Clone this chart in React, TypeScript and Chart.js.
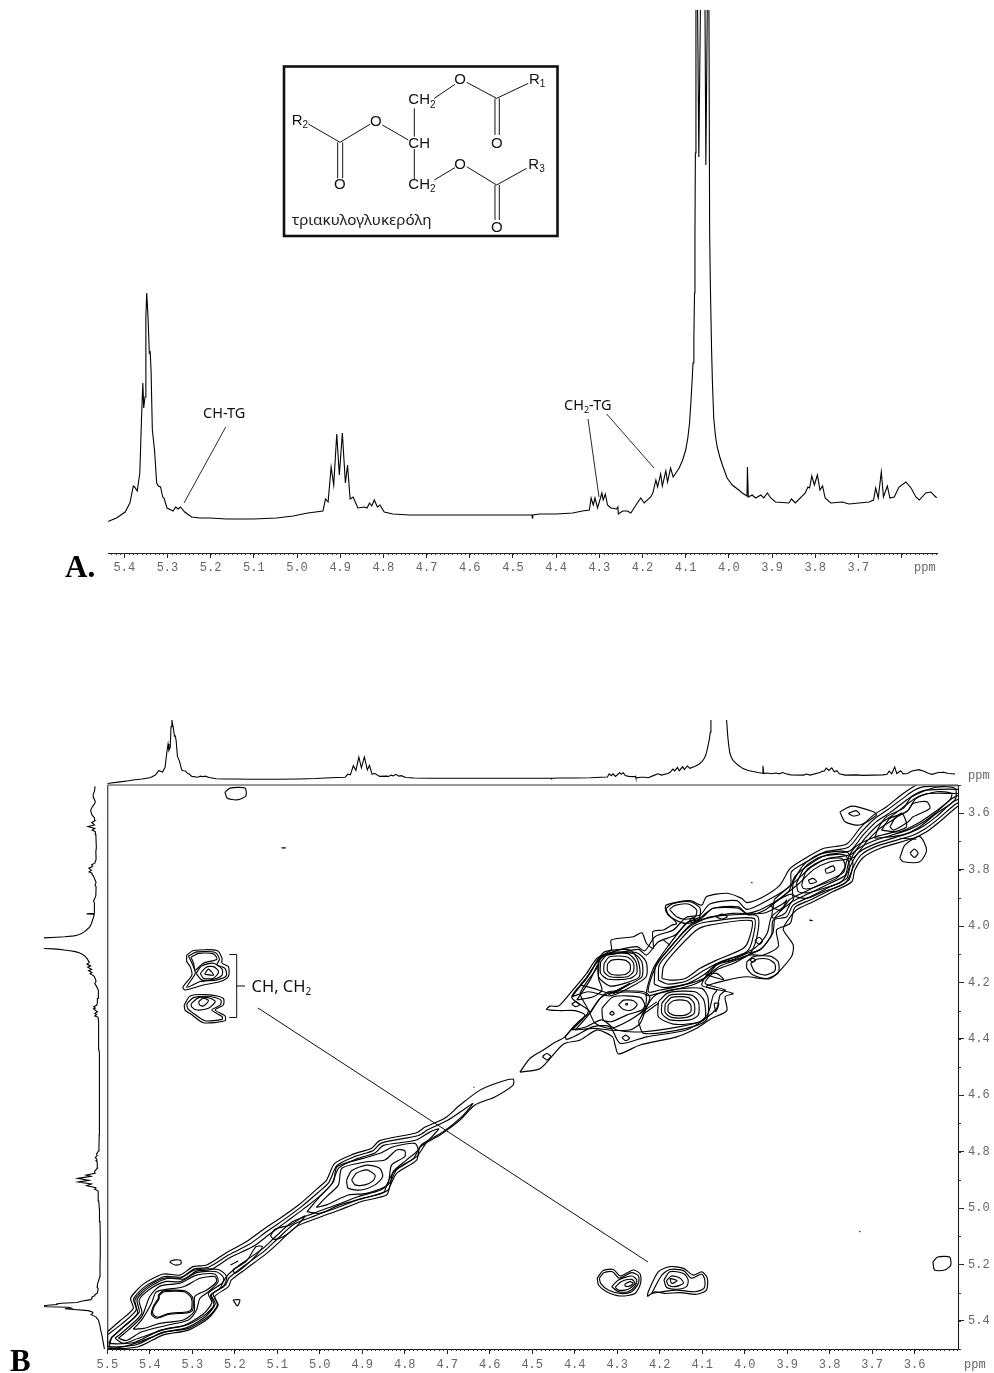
import React, { useEffect, useRef } from "react";
import { Chart, registerables } from "chart.js";

Chart.register(...registerables);

type Contour = number[][];

/* ---------- 1D spectrum, [ppm, intensity] ---------- */
const spectrum: number[][] = [
  [5.5, 18], [5.47, 24], [5.45, 28],
  [5.435, 32], [5.418, 35], [5.398, 41], [5.387, 50], [5.379, 67], [5.376, 66], [5.37, 62], [5.364, 80], [5.36, 136],
  [5.357, 170], [5.355, 145], [5.352, 156], [5.35, 236], [5.348, 260], [5.345, 236], [5.342, 200], [5.34, 201],
  [5.338, 183], [5.335, 123], [5.33, 103], [5.325, 70], [5.321, 67], [5.316, 66], [5.311, 56], [5.308, 55],
  [5.301, 45], [5.287, 42], [5.281, 46], [5.275, 44], [5.27, 46], [5.26, 41], [5.244, 36], [5.225, 35], [5.202, 35],
  [5.163, 34], [5.102, 34], [5.048, 35], [5.009, 37], [4.975, 40], [4.94, 42], [4.934, 54], [4.928, 51], [4.921, 86],
  [4.915, 68], [4.908, 119], [4.902, 78], [4.895, 120], [4.888, 70], [4.883, 88], [4.877, 54], [4.87, 56], [4.859, 45],
  [4.844, 46], [4.838, 45], [4.832, 50], [4.827, 47], [4.821, 53], [4.814, 46], [4.808, 48], [4.798, 41], [4.778, 39],
  [4.74, 38], [4.624, 38], [4.456, 38], [4.455, 35], [4.454, 38], [4.439, 39], [4.4, 39], [4.362, 40], [4.339, 42],
  [4.323, 43], [4.319, 55], [4.314, 48], [4.31, 55], [4.304, 45], [4.294, 60], [4.291, 53], [4.286, 59], [4.281, 48],
  [4.273, 45], [4.26, 44], [4.257, 46], [4.256, 39], [4.246, 42], [4.235, 42], [4.227, 40], [4.215, 48], [4.204, 55],
  [4.196, 50], [4.181, 56], [4.176, 60], [4.169, 73], [4.165, 66], [4.158, 79], [4.154, 67], [4.146, 82], [4.142, 71],
  [4.135, 85], [4.129, 76], [4.115, 85], [4.107, 93], [4.1, 103], [4.095, 115], [4.091, 130], [4.088, 150], [4.085, 173],
  [4.083, 190], [4.081, 215], [4.0795, 260], [4.0785, 320], [4.0775, 400],
  [4.0762, 600], [4.0735, 600], [4.0695, 396], [4.0645, 600], [4.056, 600], [4.0532, 388], [4.0488, 600], [4.0465, 600],
  [4.0445, 320], [4.0425, 260], [4.04, 203], [4.038, 170], [4.035, 135], [4.031, 117], [4.027, 106], [4.021, 96], [4.015, 88],
  [4.004, 75], [3.992, 68], [3.977, 63], [3.969, 60],
  [3.958, 57], [3.957, 86], [3.955, 56], [3.946, 58], [3.938, 55], [3.926, 58], [3.919, 55], [3.911, 60], [3.903, 55],
  [3.892, 51], [3.861, 50], [3.855, 54], [3.846, 50], [3.823, 60], [3.817, 66], [3.813, 65], [3.808, 77], [3.802, 68],
  [3.795, 78], [3.789, 63], [3.783, 67], [3.777, 55], [3.764, 50], [3.737, 51], [3.722, 49], [3.675, 51], [3.665, 53],
  [3.66, 65], [3.654, 55], [3.647, 81], [3.642, 56], [3.633, 67], [3.627, 55], [3.617, 56], [3.606, 66], [3.59, 71],
  [3.578, 65], [3.567, 56], [3.559, 53], [3.544, 60], [3.532, 61], [3.521, 56], [3.505, 54],
];

const ticksSpectrum = [5.4, 5.3, 5.2, 5.1, 5.0, 4.9, 4.8, 4.7, 4.6, 4.5, 4.4, 4.3, 4.2, 4.1, 4.0, 3.9, 3.8, 3.7, 3.6];
const unlabeledSpectrumTicks = [3.6];
const ticksF2 = [5.5, 5.4, 5.3, 5.2, 5.1, 5.0, 4.9, 4.8, 4.7, 4.6, 4.5, 4.4, 4.3, 4.2, 4.1, 4.0, 3.9, 3.8, 3.7, 3.6];
const ticksF1 = [3.6, 3.8, 4.0, 4.2, 4.4, 4.6, 4.8, 5.0, 5.2, 5.4];

/* ---------- 2D contours, [ppm F2, ppm F1] ---------- */
const diagonalLong: Contour[] = [
  [[5.5, 5.439], [5.47, 5.4], [5.439, 5.356], [5.445, 5.32], [5.415, 5.27], [5.368, 5.234], [5.329, 5.238], [5.298, 5.208], [5.266, 5.202], [5.219, 5.158], [5.172, 5.119], [5.133, 5.076], [5.09, 5.033], [5.047, 4.986], [5.008, 4.934], [4.984, 4.901], [4.965, 4.842], [4.921, 4.809], [4.878, 4.788], [4.859, 4.761], [4.772, 4.733], [4.752, 4.713], [4.705, 4.681], [4.67, 4.635], [4.623, 4.582], [4.576, 4.553], [4.545, 4.543], [4.545, 4.564], [4.588, 4.606], [4.635, 4.635], [4.67, 4.688], [4.717, 4.741], [4.764, 4.784], [4.772, 4.83], [4.819, 4.877], [4.835, 4.924], [4.843, 4.954], [4.902, 4.977], [4.953, 5.007], [5.008, 5.037], [5.055, 5.066], [5.094, 5.119], [5.125, 5.161], [5.172, 5.214], [5.208, 5.255], [5.215, 5.279], [5.247, 5.314], [5.239, 5.344], [5.262, 5.391], [5.309, 5.433], [5.368, 5.45], [5.427, 5.492], [5.498, 5.498]],
  [[5.5, 5.45], [5.465, 5.41], [5.432, 5.362], [5.438, 5.322], [5.41, 5.277], [5.365, 5.243], [5.325, 5.245], [5.295, 5.216], [5.262, 5.21], [5.215, 5.167], [5.165, 5.128], [5.128, 5.087], [5.085, 5.042], [5.043, 4.995], [5.004, 4.945], [4.978, 4.908], [4.96, 4.85], [4.917, 4.817], [4.875, 4.797], [4.855, 4.77], [4.768, 4.743], [4.745, 4.722], [4.7, 4.69], [4.66, 4.65], [4.64, 4.63], [4.665, 4.675], [4.71, 4.73], [4.76, 4.775], [4.78, 4.825], [4.825, 4.87], [4.842, 4.917], [4.85, 4.945], [4.905, 4.968], [4.958, 4.998], [5.012, 5.028], [5.06, 5.057], [5.1, 5.11], [5.13, 5.152], [5.178, 5.205], [5.213, 5.247], [5.222, 5.273], [5.255, 5.308], [5.246, 5.34], [5.268, 5.384], [5.314, 5.425], [5.372, 5.442], [5.43, 5.484], [5.5, 5.49]],
  [[5.49, 5.46], [5.46, 5.42], [5.425, 5.37], [5.43, 5.325], [5.405, 5.285], [5.36, 5.25], [5.32, 5.252], [5.29, 5.224], [5.255, 5.218], [5.21, 5.175], [5.155, 5.135], [5.12, 5.095], [5.08, 5.05], [5.038, 5.003], [4.998, 4.955], [4.972, 4.915], [4.955, 4.858], [4.912, 4.825], [4.87, 4.805], [4.85, 4.778], [4.775, 4.76], [4.74, 4.73], [4.72, 4.72], [4.75, 4.77], [4.772, 4.818], [4.818, 4.862], [4.835, 4.91], [4.855, 4.935], [4.91, 4.96], [4.963, 4.99], [5.017, 5.02], [5.065, 5.05], [5.105, 5.103], [5.135, 5.145], [5.184, 5.197], [5.218, 5.24], [5.23, 5.267], [5.262, 5.302], [5.254, 5.336], [5.275, 5.377], [5.32, 5.417], [5.376, 5.434], [5.435, 5.476], [5.495, 5.48]],
];

const peak535: Contour[] = [
  [[5.49, 5.459], [5.462, 5.421], [5.429, 5.374], [5.435, 5.326], [5.411, 5.285], [5.368, 5.249], [5.329, 5.249], [5.294, 5.22], [5.239, 5.218], [5.219, 5.243], [5.227, 5.279], [5.251, 5.303], [5.241, 5.344], [5.262, 5.385], [5.309, 5.427], [5.36, 5.439], [5.423, 5.474], [5.462, 5.492], [5.494, 5.494]],
  [[5.482, 5.462], [5.455, 5.429], [5.419, 5.374], [5.425, 5.326], [5.4, 5.288], [5.364, 5.261], [5.329, 5.261], [5.29, 5.229], [5.243, 5.226], [5.226, 5.249], [5.235, 5.285], [5.257, 5.309], [5.249, 5.344], [5.27, 5.379], [5.313, 5.415], [5.357, 5.427], [5.427, 5.462], [5.462, 5.48]],
  [[5.474, 5.462], [5.451, 5.433], [5.419, 5.385], [5.4, 5.314], [5.376, 5.277], [5.329, 5.267], [5.29, 5.238], [5.247, 5.234], [5.239, 5.261], [5.262, 5.297], [5.282, 5.32], [5.29, 5.362], [5.309, 5.397], [5.357, 5.415], [5.419, 5.439], [5.455, 5.47]],
  [[5.439, 5.43], [5.419, 5.397], [5.396, 5.338], [5.384, 5.297], [5.321, 5.279], [5.282, 5.249], [5.247, 5.243], [5.243, 5.261], [5.266, 5.291], [5.294, 5.314], [5.296, 5.368], [5.321, 5.397], [5.376, 5.409], [5.415, 5.427]],
  [[5.38, 5.308], [5.368, 5.294], [5.317, 5.294], [5.299, 5.318], [5.299, 5.362], [5.309, 5.371], [5.356, 5.377], [5.384, 5.391], [5.396, 5.377], [5.392, 5.35], [5.38, 5.32]],
  [[5.378, 5.31], [5.366, 5.297], [5.319, 5.297], [5.302, 5.32], [5.302, 5.359], [5.311, 5.368], [5.356, 5.374], [5.382, 5.387], [5.393, 5.375], [5.39, 5.35], [5.378, 5.322]],
];

const ridgeSmall: Contour[] = [
  [[5.353, 5.19], [5.341, 5.184], [5.327, 5.186], [5.327, 5.198], [5.341, 5.202], [5.351, 5.194]],
  [[5.204, 5.326], [5.188, 5.326], [5.194, 5.347]],
  [[5.21, 5.202], [5.192, 5.188]],
  [[5.204, 5.218], [5.172, 5.187], [5.15, 5.137], [5.135, 5.137], [5.149, 5.167], [5.176, 5.206], [5.2, 5.232]],
  [[5.116, 5.099], [5.106, 5.076], [5.07, 5.06], [5.035, 5.028], [5.055, 5.066], [5.086, 5.102], [5.108, 5.111]],
];

const peak490: Contour[] = [
  [[4.925, 4.901], [4.914, 4.877], [4.89, 4.865], [4.87, 4.883], [4.874, 4.903], [4.894, 4.918], [4.917, 4.918]],
  [[4.937, 4.901], [4.925, 4.868], [4.89, 4.848], [4.859, 4.859], [4.852, 4.889], [4.87, 4.918], [4.902, 4.936], [4.933, 4.93]],
  [[5.008, 4.998], [4.984, 4.96], [4.956, 4.918], [4.948, 4.859], [4.89, 4.836], [4.847, 4.83], [4.819, 4.794], [4.8, 4.797], [4.8, 4.818], [4.831, 4.848], [4.841, 4.918], [4.89, 4.948], [4.933, 4.954], [4.984, 4.989]],
  [[5.03, 5.013], [5.0, 4.96], [4.968, 4.907], [4.959, 4.853], [4.898, 4.824], [4.855, 4.804], [4.827, 4.783], [4.776, 4.771], [4.769, 4.794], [4.796, 4.83], [4.827, 4.871], [4.839, 4.936], [4.898, 4.966], [4.953, 4.989], [5.0, 5.019]],
];

const clusterOuter: Contour[] = [
  [[4.529, 4.518], [4.505, 4.469], [4.474, 4.44], [4.45, 4.416], [4.423, 4.393], [4.403, 4.357], [4.376, 4.316], [4.399, 4.3], [4.434, 4.3], [4.466, 4.296], [4.458, 4.284], [4.438, 4.284], [4.411, 4.239], [4.372, 4.168], [4.348, 4.115], [4.314, 4.085], [4.314, 4.05], [4.262, 4.038], [4.242, 4.024], [4.231, 4.062], [4.215, 4.079], [4.216, 4.02], [4.191, 4.014], [4.172, 3.997], [4.16, 3.991], [4.185, 3.949], [4.185, 3.926], [4.129, 3.91], [4.101, 3.926], [4.09, 3.896], [4.042, 3.884], [4.007, 3.902], [3.995, 3.917], [3.956, 3.896], [3.917, 3.855], [3.893, 3.796], [3.854, 3.757], [3.815, 3.725], [3.76, 3.709], [3.729, 3.654], [3.697, 3.607], [3.666, 3.577], [3.627, 3.53], [3.603, 3.506], [3.58, 3.49], [3.478, 3.49], [3.478, 3.559], [3.5, 3.577], [3.541, 3.63], [3.572, 3.666], [3.603, 3.689], [3.682, 3.725], [3.721, 3.757], [3.741, 3.802], [3.748, 3.843], [3.792, 3.878], [3.839, 3.914], [3.878, 3.943], [3.901, 3.985], [3.909, 4.014], [3.886, 4.067], [3.89, 4.109], [3.94, 4.186], [3.995, 4.18], [4.042, 4.192], [4.09, 4.215], [4.027, 4.239], [4.046, 4.251], [4.042, 4.3], [4.078, 4.328], [4.113, 4.363], [4.16, 4.393], [4.246, 4.422], [4.297, 4.454], [4.305, 4.422], [4.311, 4.393], [4.348, 4.369], [4.387, 4.404], [4.427, 4.419], [4.481, 4.505]],
  [[4.423, 4.393], [4.391, 4.339], [4.364, 4.304], [4.407, 4.253], [4.372, 4.186], [4.344, 4.121], [4.309, 4.091], [4.254, 4.073], [4.235, 4.088], [4.211, 4.038], [4.168, 4.014], [4.137, 3.969], [4.105, 3.961], [4.082, 3.922], [4.019, 3.91], [3.995, 3.941], [3.956, 3.917], [3.893, 3.858], [3.89, 3.808], [3.85, 3.769], [3.811, 3.737], [3.756, 3.721], [3.725, 3.666], [3.693, 3.618], [3.662, 3.586], [3.623, 3.542], [3.6, 3.518], [3.576, 3.506], [3.478, 3.506], [3.478, 3.547], [3.505, 3.569], [3.545, 3.621], [3.576, 3.656], [3.607, 3.68], [3.686, 3.715], [3.726, 3.748], [3.746, 3.796], [3.755, 3.837], [3.795, 3.87], [3.843, 3.906], [3.882, 3.934], [3.893, 3.991], [3.925, 4.014], [3.921, 4.073], [3.956, 4.103], [3.988, 4.103], [4.027, 4.133], [4.066, 4.156], [4.093, 4.203], [4.046, 4.227], [4.058, 4.245], [4.066, 4.292], [4.097, 4.333], [4.137, 4.369], [4.231, 4.393], [4.293, 4.416], [4.317, 4.357], [4.356, 4.357], [4.395, 4.387], [4.419, 4.402]],
  [[4.407, 4.369], [4.368, 4.304], [4.387, 4.239], [4.348, 4.15], [4.336, 4.109], [4.305, 4.099], [4.25, 4.083], [4.231, 4.103], [4.203, 4.056], [4.164, 4.032], [4.133, 3.985], [4.105, 3.976], [4.074, 3.937], [4.015, 3.932], [3.995, 3.955], [3.956, 3.937], [3.897, 3.878], [3.882, 3.825], [3.846, 3.78], [3.807, 3.748], [3.752, 3.733], [3.721, 3.677], [3.69, 3.63], [3.658, 3.598], [3.619, 3.553], [3.596, 3.53], [3.572, 3.518], [3.478, 3.518], [3.478, 3.536], [3.509, 3.559], [3.549, 3.612], [3.58, 3.646], [3.611, 3.669], [3.69, 3.707], [3.732, 3.74], [3.752, 3.79], [3.76, 3.831], [3.799, 3.861], [3.846, 3.896], [3.886, 3.926], [3.901, 3.967], [3.933, 3.979], [3.937, 4.032], [3.964, 4.085], [3.995, 4.097], [4.031, 4.121], [4.07, 4.138], [4.101, 4.209], [4.066, 4.227], [4.074, 4.245], [4.086, 4.31], [4.105, 4.339], [4.152, 4.357], [4.238, 4.375], [4.301, 4.369], [4.336, 4.333], [4.372, 4.357]],
];

const ridgeUpper: Contour[] = [
  [[3.93, 3.905], [3.878, 3.838], [3.842, 3.79], [3.803, 3.76], [3.748, 3.745], [3.717, 3.689], [3.686, 3.642], [3.654, 3.61], [3.615, 3.565], [3.592, 3.542], [3.568, 3.53], [3.478, 3.53], [3.478, 3.525], [3.513, 3.549], [3.553, 3.602], [3.584, 3.636], [3.615, 3.659], [3.694, 3.697], [3.736, 3.73], [3.756, 3.78], [3.764, 3.821], [3.803, 3.851], [3.85, 3.886], [3.89, 3.916], [3.905, 3.955], [3.935, 3.97]],
  [[3.94, 3.93], [3.873, 3.85], [3.838, 3.8], [3.799, 3.772], [3.744, 3.757], [3.713, 3.701], [3.682, 3.654], [3.65, 3.622], [3.63, 3.6], [3.62, 3.65], [3.698, 3.687], [3.74, 3.72], [3.76, 3.77], [3.768, 3.811], [3.807, 3.841], [3.854, 3.876], [3.894, 3.906], [3.915, 3.945]],
];

const lens: Contour[] = [
  [[4.101, 3.967], [4.074, 3.937], [4.015, 3.937], [3.991, 3.961], [3.952, 3.943], [3.921, 3.908], [3.89, 3.887], [3.886, 3.908], [3.913, 3.943], [3.929, 3.973], [3.934, 4.026], [3.96, 4.079], [3.991, 4.103], [4.027, 4.121], [4.066, 4.138], [4.089, 4.18], [4.113, 4.203], [4.144, 4.218], [4.203, 4.239], [4.231, 4.245], [4.215, 4.15], [4.187, 4.085], [4.137, 3.991]],
  [[4.086, 3.969], [4.027, 3.955], [3.956, 3.955], [3.909, 3.92], [3.901, 3.908], [3.909, 3.932], [3.937, 3.967], [3.947, 4.026], [3.972, 4.073], [4.003, 4.099], [4.062, 4.133], [4.097, 4.174], [4.137, 4.206], [4.199, 4.227], [4.227, 4.233], [4.211, 4.15], [4.184, 4.091], [4.129, 4.002]],
  [[4.213, 4.206], [4.209, 4.138], [4.18, 4.085], [4.129, 3.997], [4.09, 3.973], [4.035, 3.961], [3.97, 3.965], [3.973, 4.05], [3.991, 4.103], [4.058, 4.142], [4.097, 4.186], [4.137, 4.206], [4.191, 4.218]],
  [[4.203, 4.192], [4.201, 4.138], [4.172, 4.085], [4.121, 4.002], [4.086, 3.985], [3.978, 3.973], [3.981, 4.044], [3.995, 4.091], [4.062, 4.13], [4.101, 4.162], [4.137, 4.195], [4.18, 4.206]],
  [[4.195, 4.186], [4.191, 4.144], [4.168, 4.097], [4.113, 4.014], [4.082, 3.997], [3.984, 3.981], [3.988, 4.038], [4.003, 4.079], [4.066, 4.121], [4.105, 4.15], [4.14, 4.186], [4.176, 4.192]],
  [[4.191, 4.05], [4.176, 4.068]],
  [[4.092, 4.172], [4.066, 4.168], [4.05, 4.19]],
];

const squareLower: Contour[] = [
  [[4.395, 4.262], [4.364, 4.192], [4.344, 4.133], [4.344, 4.186], [4.336, 4.227], [4.356, 4.251]],
  [[4.407, 4.251], [4.376, 4.192], [4.344, 4.121], [4.317, 4.095], [4.254, 4.095], [4.232, 4.127], [4.232, 4.18], [4.27, 4.218], [4.317, 4.248], [4.368, 4.233]],
  [[4.387, 4.209], [4.364, 4.168], [4.344, 4.115], [4.325, 4.099], [4.262, 4.097], [4.242, 4.127], [4.242, 4.18], [4.274, 4.209], [4.317, 4.237], [4.356, 4.221]],
  [[4.344, 4.115], [4.329, 4.091], [4.27, 4.085], [4.25, 4.127], [4.248, 4.18], [4.278, 4.201], [4.317, 4.213], [4.344, 4.18]],
  [[4.339, 4.127], [4.321, 4.099], [4.274, 4.099], [4.256, 4.127], [4.254, 4.168], [4.271, 4.186], [4.321, 4.189], [4.339, 4.168]],
  [[4.331, 4.133], [4.318, 4.109], [4.278, 4.109], [4.262, 4.13], [4.262, 4.162], [4.276, 4.18], [4.317, 4.18], [4.331, 4.162]],
  [[4.323, 4.135], [4.313, 4.121], [4.282, 4.121], [4.27, 4.135], [4.27, 4.159], [4.282, 4.172], [4.313, 4.172], [4.323, 4.159]],
  [[4.321, 4.245], [4.27, 4.203]],
  [[4.31, 4.241], [4.274, 4.209]],
];

const squareUpper: Contour[] = [
  [[4.18, 4.28], [4.168, 4.265], [4.137, 4.265], [4.127, 4.28], [4.127, 4.304], [4.14, 4.316], [4.168, 4.316], [4.18, 4.304]],
  [[4.187, 4.277], [4.172, 4.253], [4.133, 4.253], [4.119, 4.274], [4.119, 4.31], [4.137, 4.324], [4.172, 4.324], [4.187, 4.307]],
  [[4.195, 4.274], [4.176, 4.245], [4.125, 4.245], [4.109, 4.268], [4.109, 4.316], [4.129, 4.333], [4.176, 4.333], [4.195, 4.31]],
  [[4.203, 4.268], [4.18, 4.237], [4.117, 4.233], [4.096, 4.263], [4.093, 4.328], [4.113, 4.343], [4.168, 4.348], [4.203, 4.322]],
  [[4.25, 4.339], [4.215, 4.251], [4.176, 4.227], [4.101, 4.221], [4.086, 4.257], [4.09, 4.333], [4.137, 4.363], [4.238, 4.381]],
  [[4.246, 4.31], [4.207, 4.269]],
  [[4.242, 4.316], [4.203, 4.274]],
];

const crossPeak: Contour[] = [
  [[4.297, 4.28], [4.285, 4.263], [4.262, 4.265], [4.253, 4.28], [4.266, 4.298], [4.285, 4.296]],
  [[4.28, 4.275], [4.276, 4.275], [4.276, 4.279], [4.28, 4.279]],
  [[4.336, 4.292], [4.309, 4.251], [4.246, 4.253], [4.235, 4.28], [4.242, 4.298], [4.278, 4.316], [4.313, 4.339], [4.333, 4.333]],
  [[4.364, 4.31], [4.34, 4.257], [4.317, 4.237], [4.235, 4.241], [4.235, 4.292], [4.27, 4.333], [4.317, 4.363], [4.352, 4.345]],
  [[4.399, 4.369], [4.368, 4.316], [4.344, 4.263], [4.321, 4.233], [4.238, 4.233], [4.223, 4.251], [4.235, 4.304], [4.246, 4.345], [4.27, 4.369], [4.317, 4.369], [4.356, 4.363]],
  [[4.318, 4.31], [4.312, 4.303], [4.307, 4.31], [4.312, 4.316]],
];

const clusterSmall: Contour[] = [
  [[4.407, 4.277], [4.398, 4.268], [4.389, 4.28], [4.398, 4.286]],
  [[4.289, 4.396], [4.28, 4.387], [4.271, 4.398], [4.28, 4.407]],
  [[4.476, 4.463], [4.466, 4.452], [4.456, 4.463], [4.466, 4.475]],
  [[4.072, 4.274], [4.061, 4.274], [4.068, 4.304]],
  [[3.976, 4.052], [3.966, 4.04], [3.958, 4.053], [3.966, 4.065]],
  [[4.068, 3.967], [4.054, 3.958], [4.041, 3.967], [4.054, 3.975]],
  [[3.988, 4.121], [3.981, 4.114], [3.974, 4.121], [3.981, 4.128]],
  [[4.13, 3.981], [4.123, 3.971], [4.115, 3.981], [4.123, 3.988]],
  [[4.185, 3.937], [4.168, 3.92], [4.129, 3.914], [4.105, 3.937], [4.109, 3.979], [4.137, 3.991], [4.16, 3.981], [4.18, 3.961]],
  [[4.177, 3.941], [4.164, 3.927], [4.133, 3.922], [4.113, 3.943], [4.117, 3.969], [4.14, 3.976], [4.16, 3.967]],
  [[3.995, 4.127], [3.98, 4.109], [3.94, 4.107], [3.921, 4.127], [3.921, 4.166], [3.948, 4.186], [3.98, 4.174], [3.995, 4.15]],
  [[3.986, 4.133], [3.972, 4.118], [3.944, 4.118], [3.929, 4.135], [3.929, 4.159], [3.952, 4.174], [3.976, 4.162]],
];

const peak380: Contour[] = [
  [[3.886, 3.843], [3.862, 3.784], [3.823, 3.745], [3.76, 3.737], [3.745, 3.784], [3.764, 3.849], [3.815, 3.878], [3.854, 3.902], [3.886, 3.89]],
  [[3.878, 3.849], [3.858, 3.79], [3.819, 3.754], [3.764, 3.748], [3.754, 3.79], [3.772, 3.843], [3.815, 3.867], [3.85, 3.882], [3.874, 3.878]],
  [[3.866, 3.855], [3.854, 3.802], [3.815, 3.766], [3.772, 3.76], [3.764, 3.79], [3.784, 3.831], [3.823, 3.855], [3.846, 3.867], [3.862, 3.867]],
  [[3.811, 3.799], [3.792, 3.787], [3.788, 3.802], [3.807, 3.813]],
  [[3.85, 3.837], [3.839, 3.831], [3.831, 3.843], [3.846, 3.849]],
];

const peak360: Contour[] = [
  [[3.694, 3.689], [3.686, 3.654], [3.666, 3.612], [3.627, 3.583], [3.607, 3.542], [3.549, 3.508], [3.505, 3.512], [3.505, 3.553], [3.549, 3.601], [3.588, 3.648], [3.627, 3.677]],
  [[3.678, 3.66], [3.658, 3.618], [3.619, 3.595], [3.596, 3.547], [3.549, 3.524], [3.513, 3.53], [3.517, 3.553], [3.552, 3.595], [3.592, 3.636], [3.635, 3.666]],
  [[3.658, 3.648], [3.646, 3.618], [3.615, 3.589], [3.603, 3.565], [3.572, 3.559], [3.564, 3.583], [3.603, 3.612], [3.615, 3.63], [3.65, 3.66]],
  [[3.776, 3.595], [3.748, 3.575], [3.697, 3.595], [3.69, 3.607], [3.729, 3.642], [3.764, 3.63]],
  [[3.756, 3.601], [3.738, 3.591], [3.729, 3.604], [3.745, 3.61]],
  [[3.635, 3.76], [3.623, 3.713], [3.588, 3.683], [3.572, 3.731], [3.588, 3.772], [3.627, 3.772]],
  [[3.611, 3.742], [3.601, 3.727], [3.592, 3.742], [3.601, 3.757]],
  [[3.635, 3.689], [3.596, 3.692]],
];

const crossUpperLeft: Contour[] = [
  [[5.313, 4.103], [5.297, 4.087], [5.242, 4.087], [5.23, 4.114], [5.23, 4.132], [5.215, 4.144], [5.215, 4.179], [5.234, 4.197], [5.274, 4.209], [5.317, 4.227], [5.322, 4.217], [5.301, 4.174], [5.305, 4.144], [5.313, 4.126]],
  [[5.309, 4.106], [5.289, 4.092], [5.246, 4.094], [5.236, 4.118], [5.242, 4.138], [5.223, 4.15], [5.22, 4.177], [5.242, 4.191], [5.281, 4.197], [5.313, 4.217], [5.293, 4.168], [5.299, 4.138]],
  [[5.303, 4.111], [5.285, 4.097], [5.25, 4.099], [5.242, 4.118], [5.274, 4.132], [5.293, 4.156], [5.297, 4.132]],
  [[5.291, 4.168], [5.278, 4.142], [5.25, 4.132], [5.23, 4.153], [5.23, 4.174], [5.25, 4.189], [5.278, 4.191]],
  [[5.281, 4.168], [5.267, 4.146], [5.25, 4.144], [5.238, 4.162], [5.25, 4.185], [5.274, 4.185]],
  [[5.271, 4.171], [5.262, 4.153], [5.25, 4.174]],
  [[5.319, 4.28], [5.305, 4.248], [5.258, 4.244], [5.227, 4.256], [5.227, 4.28], [5.246, 4.298], [5.223, 4.319], [5.223, 4.336], [5.274, 4.343], [5.301, 4.315], [5.317, 4.298]],
  [[5.313, 4.276], [5.297, 4.254], [5.258, 4.25], [5.233, 4.262], [5.234, 4.28], [5.254, 4.298], [5.23, 4.321], [5.23, 4.331], [5.27, 4.336], [5.297, 4.31], [5.311, 4.292]],
  [[5.303, 4.276], [5.285, 4.254], [5.258, 4.256], [5.246, 4.268], [5.262, 4.292], [5.289, 4.298], [5.301, 4.288]],
  [[5.285, 4.268], [5.274, 4.256], [5.262, 4.265], [5.274, 4.284], [5.283, 4.28]],
];

const crossLowerRight: Contour[] = [
  [[4.347, 5.249], [4.333, 5.222], [4.309, 5.218], [4.293, 5.241], [4.262, 5.22], [4.246, 5.234], [4.245, 5.267], [4.258, 5.303], [4.293, 5.312], [4.325, 5.297], [4.344, 5.273]],
  [[4.342, 5.249], [4.331, 5.229], [4.311, 5.226], [4.295, 5.249], [4.266, 5.229], [4.25, 5.241], [4.25, 5.267], [4.266, 5.297], [4.293, 5.303], [4.321, 5.291], [4.339, 5.267]],
  [[4.313, 5.279], [4.297, 5.255], [4.266, 5.241], [4.254, 5.255], [4.258, 5.277], [4.274, 5.297], [4.297, 5.297]],
  [[4.305, 5.281], [4.29, 5.261], [4.266, 5.253], [4.258, 5.267], [4.274, 5.288], [4.297, 5.291]],
  [[4.282, 5.27], [4.27, 5.261], [4.262, 5.267], [4.271, 5.277], [4.281, 5.277]],
  [[4.229, 5.314], [4.227, 5.297], [4.203, 5.226], [4.176, 5.208], [4.144, 5.214], [4.121, 5.238], [4.101, 5.226], [4.088, 5.249], [4.09, 5.291], [4.113, 5.306], [4.152, 5.3], [4.188, 5.303], [4.211, 5.297]],
  [[4.219, 5.303], [4.195, 5.238], [4.176, 5.218], [4.144, 5.222], [4.125, 5.249], [4.101, 5.234], [4.094, 5.255], [4.096, 5.285], [4.117, 5.297], [4.16, 5.291], [4.195, 5.297]],
  [[4.19, 5.255], [4.176, 5.226], [4.144, 5.232], [4.133, 5.255], [4.137, 5.279], [4.16, 5.288], [4.184, 5.281]],
  [[4.184, 5.258], [4.172, 5.241], [4.152, 5.249], [4.144, 5.267], [4.164, 5.279], [4.18, 5.273]],
  [[4.176, 5.249], [4.159, 5.258], [4.172, 5.267]],
];

const noiseSpots: Contour[] = [
  [[5.223, 3.525], [5.211, 3.511], [5.176, 3.511], [5.174, 3.539], [5.195, 3.553], [5.218, 3.546]],
  [[3.557, 5.191], [3.546, 5.174], [3.518, 5.174], [3.515, 5.202], [3.529, 5.22], [3.553, 5.22]],
  [[5.09, 3.723], [5.08, 3.723]],
  [[3.984, 3.844], [3.982, 3.848]],
  [[3.848, 3.979], [3.84, 3.981]],
  [[3.73, 5.082], [3.728, 5.085]],
  [[4.638, 4.571], [4.636, 4.573]],
];

const allContours: Contour[] = [
  ...diagonalLong, ...peak535, ...ridgeSmall, ...peak490, ...clusterOuter, ...ridgeUpper, ...lens, ...squareLower, ...squareUpper,
  ...crossPeak, ...clusterSmall, ...peak380, ...peak360, ...crossUpperLeft, ...crossLowerRight, ...noiseSpots,
];

/* ---------- helpers ---------- */
const MONO = "'Liberation Mono', monospace";
const AXIS_GREY = "#666";
const LINE = "#000";

const minorTicks = (id: string, axis: "x" | "y", step: number, len: number) => ({
  id,
  afterDraw(chart: any) {
    const s = chart.scales[axis];
    const { ctx, chartArea } = chart;
    ctx.save();
    ctx.strokeStyle = "#333";
    ctx.lineWidth = 1;
    ctx.beginPath();
    const n0 = Math.ceil(s.min / step - 1e-6);
    const n1 = Math.floor(s.max / step + 1e-6);
    for (let n = n0; n <= n1; n++) {
      const p = Math.round(s.getPixelForValue(n * step)) + 0.5;
      if (axis === "x") {
        ctx.moveTo(p, chartArea.bottom);
        ctx.lineTo(p, chartArea.bottom + len);
      } else {
        ctx.moveTo(chartArea.right, p);
        ctx.lineTo(chartArea.right + len, p);
      }
    }
    ctx.stroke();
    ctx.restore();
  },
});

const framePlugin = {
  id: "frame",
  afterDraw(chart: any) {
    const { ctx, chartArea: a } = chart;
    ctx.save();
    ctx.strokeStyle = "#111";
    ctx.lineWidth = 1;
    ctx.beginPath();
    ctx.moveTo(a.left + 0.5, a.top);
    ctx.lineTo(a.left + 0.5, a.bottom);
    ctx.stroke();
    ctx.strokeStyle = "#777";
    ctx.lineWidth = 1.5;
    ctx.beginPath();
    ctx.moveTo(a.left, a.top);
    ctx.lineTo(a.right, a.top);
    ctx.stroke();
    ctx.restore();
  },
};

const lineSet = (data: { x: number; y: number }[], tension = 0, borderWidth = 1.1) => ({
  data,
  showLine: true,
  pointRadius: 0,
  borderColor: LINE,
  borderWidth,
  tension,
  fill: false,
});

const setTicks = (values: number[]) => (scale: any) => {
  scale.ticks = values.map((value) => ({ value }));
};

const baseOptions = {
  responsive: false,
  animation: false as const,
  events: [],
  plugins: { legend: { display: false }, tooltip: { enabled: false } },
};

const hiddenAxes = (xCfg: any, yCfg: any) => ({
  x: { type: "linear", display: false, ...xCfg },
  y: { type: "linear", display: false, ...yCfg },
});

const W = 994;
const H = 1373;

export default function App() {
  const a = useRef<HTMLCanvasElement>(null);
  const top = useRef<HTMLCanvasElement>(null);
  const left = useRef<HTMLCanvasElement>(null);
  const main = useRef<HTMLCanvasElement>(null);

  useEffect(() => {
    const charts: Chart[] = [];
    const spectrumXY = spectrum.map(([x, y]) => ({ x, y }));

    charts.push(
      new Chart(a.current!, {
        type: "scatter",
        data: { datasets: [lineSet(spectrumXY) as any] },
        plugins: [minorTicks("minorA", "x", 0.01, 2)],
        options: {
          ...baseOptions,
          layout: { padding: { left: 108.3, right: W - 937, top: 10, bottom: 800 } },
          scales: {
            x: {
              type: "linear",
              reverse: true,
              min: 3.518,
              max: 5.437,
              afterBuildTicks: setTicks(ticksSpectrum),
              afterFit: (s: any) => { s.height = 20; },
              border: { display: true, color: "#222", width: 1 },
              grid: { drawOnChartArea: false, drawTicks: true, tickLength: 5, color: "#222" },
              ticks: {
                autoSkip: false,
                maxRotation: 0,
                padding: 3,
                color: AXIS_GREY,
                font: { family: MONO, size: 12 },
                callback: (v: any) => (unlabeledSpectrumTicks.includes(v) ? "" : Number(v).toFixed(1)),
              },
            },
            y: { type: "linear", display: false, min: 0, max: 543 },
          },
        } as any,
      })
    );

    charts.push(
      new Chart(top.current!, {
        type: "scatter",
        data: { datasets: [lineSet(spectrumXY) as any] },
        options: {
          ...baseOptions,
          layout: { padding: { left: 107.3, right: W - 958, top: 720, bottom: H - 784 } },
          scales: hiddenAxes({ reverse: true, min: 3.498, max: 5.5 }, { min: 15.8, max: 262 }),
        } as any,
      })
    );

    charts.push(
      new Chart(left.current!, {
        type: "scatter",
        data: { datasets: [lineSet(spectrum.map(([y, x]) => ({ x, y }))) as any] },
        options: {
          ...baseOptions,
          layout: { padding: { left: 44, right: W - 105, top: 785, bottom: H - 1349 } },
          scales: hiddenAxes({ reverse: true, min: 15.8, max: 250 }, { reverse: true, min: 3.5, max: 5.5 }),
        } as any,
      })
    );

    charts.push(
      new Chart(main.current!, {
        type: "scatter",
        data: {
          datasets: allContours.map((c) => {
            const pts = c.map(([x, y]) => ({ x, y }));
            return lineSet(pts.length > 2 ? [...pts, pts[0]] : pts, 0.25, 1.15) as any;
          }),
        },
        plugins: [minorTicks("minorX", "x", 0.01, 2), minorTicks("minorY", "y", 0.1, 3), framePlugin],
        options: {
          ...baseOptions,
          layout: { padding: { left: 107.3, right: 0, top: 785, bottom: 0 } },
          scales: {
            x: {
              type: "linear",
              reverse: true,
              min: 3.498,
              max: 5.5,
              afterBuildTicks: setTicks(ticksF2),
              afterFit: (s: any) => { s.height = H - 1349; },
              border: { display: true, color: "#111", width: 1 },
              grid: { drawOnChartArea: false, drawTicks: true, tickLength: 5, color: "#222" },
              ticks: {
                autoSkip: false,
                maxRotation: 0,
                padding: 4,
                color: AXIS_GREY,
                font: { family: MONO, size: 12 },
                callback: (v: any) => Number(v).toFixed(1),
              },
            },
            y: {
              type: "linear",
              position: "right",
              reverse: true,
              min: 3.5,
              max: 5.5,
              afterBuildTicks: setTicks(ticksF1),
              afterFit: (s: any) => { s.width = W - 958; },
              border: { display: true, color: "#111", width: 1 },
              grid: { drawOnChartArea: false, drawTicks: true, tickLength: 6, color: "#222" },
              ticks: {
                autoSkip: false,
                padding: 4,
                color: AXIS_GREY,
                font: { family: MONO, size: 12 },
                callback: (v: any) => Number(v).toFixed(1),
              },
            },
          },
        } as any,
      })
    );

    return () => charts.forEach((c) => c.destroy());
  }, []);

  const canvasStyle: React.CSSProperties = { position: "absolute", left: 0, top: 0 };
  const note = "'Noto Sans', sans-serif";
  const chem = "'Liberation Sans', sans-serif";
  const bond = (x1: number, y1: number, x2: number, y2: number) => (
    <line x1={x1} y1={y1} x2={x2} y2={y2} stroke="#111" strokeWidth={3} />
  );
  const atom = (x: number, y: number, label: string, sub?: string) => (
    <text x={x} y={y} fontFamily={chem} fontSize={45} fill="#111">
      {label}
      {sub ? <tspan fontSize={30} dy={10}>{sub}</tspan> : null}
    </text>
  );

  return (
    <div style={{ position: "absolute", left: 0, top: 0, width: W, height: H, background: "#fff", overflow: "hidden" }}>
      <canvas ref={a} width={W} height={H} style={canvasStyle} />
      <canvas ref={top} width={W} height={H} style={canvasStyle} />
      <canvas ref={left} width={W} height={H} style={canvasStyle} />
      <canvas ref={main} width={W} height={H} style={canvasStyle} />
      <svg width={W} height={H} style={{ ...canvasStyle, pointerEvents: "none" }}>
        <rect x={284} y={66.5} width={273.5} height={169.5} fill="none" stroke="#111" strokeWidth={2.6} />
        <g transform="translate(275 55) scale(0.3333)">
          {atom(50, 210, "R", "2")}
          {bond(100, 207, 195, 262)}
          {bond(188, 262, 188, 370)}
          {bond(203, 262, 203, 370)}
          {atom(177, 403, "O")}
          {bond(195, 262, 285, 208)}
          {atom(285, 213, "O")}
          {bond(322, 210, 400, 255)}
          {atom(400, 278, "CH")}
          {bond(418, 160, 418, 245)}
          {atom(400, 148, "CH", "2")}
          {bond(478, 130, 540, 88)}
          {atom(538, 88, "O")}
          {bond(575, 82, 665, 130)}
          {bond(665, 130, 760, 85)}
          {atom(762, 86, "R", "1")}
          {bond(660, 130, 660, 240)}
          {bond(673, 130, 673, 240)}
          {atom(648, 278, "O")}
          {bond(418, 282, 418, 375)}
          {atom(400, 402, "CH", "2")}
          {bond(478, 375, 540, 338)}
          {atom(538, 342, "O")}
          {bond(575, 335, 665, 390)}
          {bond(665, 390, 755, 340)}
          {atom(760, 342, "R", "3")}
          {bond(660, 390, 660, 495)}
          {bond(673, 390, 673, 495)}
          {atom(648, 532, "O")}
          <text x={50} y={510} fontFamily={note} fontSize={42} fill="#222" textLength={420} lengthAdjust="spacingAndGlyphs">τριακυλογλυκερόλη</text>
        </g>

        <text x={203} y={418} fontFamily={note} fontSize={14.5} fill="#111">CH-TG</text>
        <line x1={225.7} y1={427} x2={184} y2={503} stroke="#111" strokeWidth={0.9} />
        <text x={564} y={410} fontFamily={note} fontSize={14.5} fill="#111">
          CH<tspan fontSize={9} dy={3}>2</tspan><tspan dy={-3}>-TG</tspan>
        </text>
        <line x1={588} y1={419} x2={599} y2={497} stroke="#111" strokeWidth={0.9} />
        <line x1={606.7} y1={414} x2={654} y2={468} stroke="#111" strokeWidth={0.9} />

        <text x={65} y={577} fontFamily="'Liberation Serif', serif" fontWeight="bold" fontSize={31} fill="#000">A.</text>
        <text x={10} y={1371} fontFamily="'Liberation Serif', serif" fontWeight="bold" fontSize={31} fill="#000">B</text>

        <text x={914} y={571} fontFamily={MONO} fontSize={12} fill={AXIS_GREY}>ppm</text>
        <text x={968} y={779} fontFamily={MONO} fontSize={12} fill={AXIS_GREY}>ppm</text>
        <text x={964} y={1368} fontFamily={MONO} fontSize={12} fill={AXIS_GREY}>ppm</text>

        <polyline points="229.3,954.5 236.7,954.5 236.7,1017.5 229.3,1017.5" fill="none" stroke="#111" strokeWidth={1} />
        <line x1={236.7} y1={986} x2={245} y2={986} stroke="#111" strokeWidth={1} />
        <text x={251.5} y={992} fontFamily={note} fontSize={16.5} fill="#111">
          CH, CH<tspan fontSize={10} dy={3}>2</tspan>
        </text>
        <line x1={258} y1={1008} x2={648} y2={1262} stroke="#111" strokeWidth={1} />
      </svg>
    </div>
  );
}
